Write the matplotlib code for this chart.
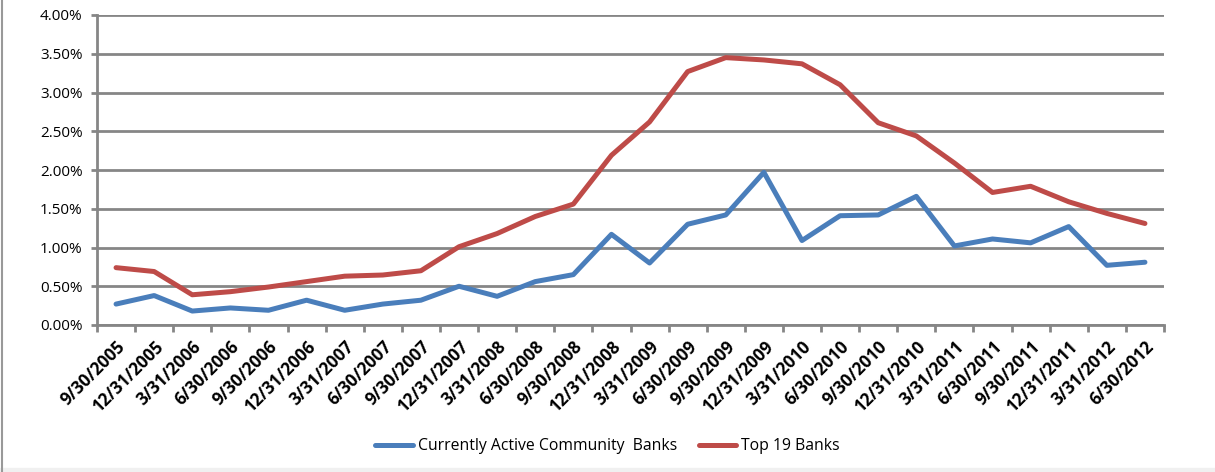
import matplotlib
matplotlib.use("Agg")
import matplotlib.pyplot as plt
import matplotlib.transforms as mtransforms
from matplotlib.ticker import FixedLocator, FuncFormatter
import numpy as np

dates = ["9/30/2005", "12/31/2005", "3/31/2006", "6/30/2006", "9/30/2006", "12/31/2006",
         "3/31/2007", "6/30/2007", "9/30/2007", "12/31/2007", "3/31/2008", "6/30/2008",
         "9/30/2008", "12/31/2008", "3/31/2009", "6/30/2009", "9/30/2009", "12/31/2009",
         "3/31/2010", "6/30/2010", "9/30/2010", "12/31/2010", "3/31/2011", "6/30/2011",
         "9/30/2011", "12/31/2011", "3/31/2012", "6/30/2012"]

community = [0.27, 0.38, 0.18, 0.22, 0.19, 0.32, 0.19, 0.27, 0.32, 0.50, 0.37, 0.56,
             0.65, 1.17, 0.80, 1.30, 1.42, 1.97, 1.09, 1.41, 1.42, 1.66, 1.02, 1.11,
             1.06, 1.27, 0.77, 0.81]

top19 = [0.74, 0.69, 0.39, 0.43, 0.49, 0.56, 0.63, 0.645, 0.70, 1.01, 1.18, 1.40,
         1.56, 2.19, 2.62, 3.27, 3.45, 3.42, 3.37, 3.10, 2.61, 2.44, 2.09, 1.71,
         1.79, 1.59, 1.44, 1.31]

yticks = [0.0, 0.5, 1.0, 1.5, 2.0, 2.5, 3.0, 3.5, 4.0]

FONT = ["Open Sans", "DejaVu Sans"]
plt.rcParams['font.family'] = FONT

W, H = 1215, 472
fig = plt.figure(figsize=(W / 100, H / 100), dpi=100)
fig.patch.set_facecolor("white")
ax = fig.add_axes([97 / W, 1 - 325 / H, (1164 - 97) / W, (325 - 15) / H])

x = np.arange(len(dates))
blue = "#4a7ebb"
red = "#be4b48"
ax.plot(x, community, color=blue, lw=3.6, solid_capstyle="round", solid_joinstyle="round",
        label="Currently Active Community  Banks", zorder=3)
ax.plot(x, top19, color=red, lw=3.6, solid_capstyle="round", solid_joinstyle="round",
        label="Top 19 Banks", zorder=3)

ax.set_xlim(-0.5, len(dates) - 0.5)
ax.set_ylim(0, 4.0)
ax.set_yticks(yticks)
ax.yaxis.set_major_formatter(FuncFormatter(lambda v, p: f"{v:.2f}%"))
ax.grid(axis="y", color="#868686", lw=2.0, zorder=1)
ax.set_axisbelow(True)

ax.xaxis.set_major_locator(FixedLocator(np.arange(-0.5, len(dates), 1.0)))
ax.xaxis.set_major_formatter(FuncFormatter(lambda v, p: ""))
ax.set_xticks(x, minor=True)
ax.set_xticklabels(dates, minor=True, rotation=45, ha="right", rotation_mode="anchor",
                   fontsize=12.3, fontweight="bold")
offset = mtransforms.ScaledTranslation(3 / 100, 0, fig.dpi_scale_trans)
for lbl in ax.get_xticklabels(minor=True):
    lbl.set_transform(lbl.get_transform() + offset)
ax.tick_params(axis="x", which="minor", length=0, pad=9)
ax.tick_params(axis="x", which="major", length=5, width=2, color="#868686")
ax.tick_params(axis="y", length=4.5, width=2, color="#868686", labelsize=11, pad=6)

for s in ["top", "right"]:
    ax.spines[s].set_visible(False)
for s in ["left", "bottom"]:
    ax.spines[s].set_color("#868686")
    ax.spines[s].set_linewidth(2)

leg = fig.legend(loc="center", bbox_to_anchor=(0.5, 1 - 446 / H), ncol=2, frameon=False,
                 handlelength=2.4, columnspacing=1.4, handletextpad=0.3,
                 prop={"size": 11.3})

# frame edges like the screenshot
fig.add_artist(plt.Line2D([1.5 / W, 1.5 / W], [0, 1], color="#999999", lw=1.5,
                          transform=fig.transFigure))
fig.add_artist(plt.Rectangle((0, 0), 1, 4 / H, color="#f0f0f0", transform=fig.transFigure,
                             zorder=0))

fig.savefig("out.png", dpi=100)
